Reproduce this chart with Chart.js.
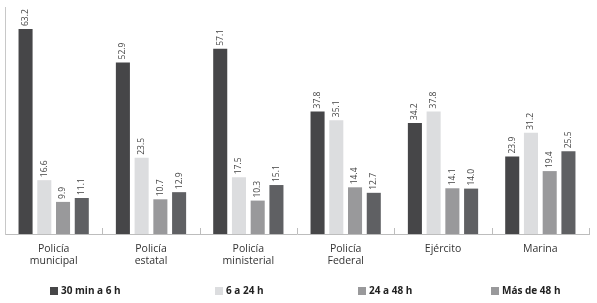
<!DOCTYPE html>
<html>
<head>
<meta charset="utf-8">
<script src="https://cdn.jsdelivr.net/npm/chart.js@4/dist/chart.umd.min.js"></script>
<style>
html,body{margin:0;padding:0;background:#fff;}
canvas{display:block;}
</style>
</head>
<body>
<canvas id="c" width="597" height="303"></canvas>
<script>
const categories = [["Policía","municipal"],["Policía","estatal"],["Policía","ministerial"],["Policía","Federal"],["Ejército"],["Marina"]];
const seriesNames = ["30 min a 6 h","6 a 24 h","24 a 48 h","Más de 48 h"];
const s30min6h = [63.2, 52.9, 57.1, 37.8, 34.2, 23.9];
const s6a24h   = [16.6, 23.5, 17.5, 35.1, 37.8, 31.2];
const s24a48h  = [9.9, 10.7, 10.3, 14.4, 14.1, 19.4];
const sMas48h  = [11.1, 12.9, 15.1, 12.7, 14.0, 25.5];
const yMax = 70;

const barColors = ["#464648","#dcdddf","#99999b","#5f6063"];
const legendColors = ["#464648","#dcdddf","#99999b","#99999b"];
const legendX = [50, 215, 358, 491];

const FONT = "'Open Sans', sans-serif";

const extras = {
  id: 'extras',
  afterDatasetsDraw(chart) {
    const ctx = chart.ctx;
    const xs = chart.scales.x;
    const area = chart.chartArea;
    const half = (xs.getPixelForValue(1) - xs.getPixelForValue(0)) / 2;
    ctx.save();
    ctx.strokeStyle = '#bdbdbd';
    ctx.lineWidth = 1;
    for (let i = 0; i < categories.length; i++) {
      const bx = Math.round(xs.getPixelForValue(i) + half) + 0.5;
      ctx.beginPath();
      ctx.moveTo(bx, area.bottom - 6);
      ctx.lineTo(bx, area.bottom);
      ctx.stroke();
    }
    ctx.fillStyle = '#444';
    ctx.font = "8.5px " + FONT;
    ctx.textAlign = 'left';
    ctx.textBaseline = 'middle';
    chart.data.datasets.forEach((ds, di) => {
      const meta = chart.getDatasetMeta(di);
      meta.data.forEach((bar, i) => {
        ctx.save();
        ctx.translate(bar.x, bar.y - 3);
        ctx.rotate(-Math.PI / 2);
        ctx.fillText(ds.data[i].toFixed(1), 0, 0);
        ctx.restore();
      });
    });
    ctx.font = "bold 10px " + FONT;
    ctx.textBaseline = 'middle';
    const ly = 291;
    chart.data.datasets.forEach((ds, di) => {
      ctx.fillStyle = legendColors[di];
      ctx.fillRect(legendX[di], ly - 4, 8, 8);
      ctx.fillStyle = '#222';
      ctx.fillText(ds.label, legendX[di] + 11, ly);
    });
    ctx.restore();
  }
};

const seriesValues = [s30min6h, s6a24h, s24a48h, sMas48h];

new Chart(document.getElementById('c'), {
  type: 'bar',
  data: {
    labels: categories,
    datasets: seriesNames.map((n, i) => ({
      label: n,
      data: seriesValues[i],
      backgroundColor: barColors[i],
      borderWidth: 0,
      categoryPercentage: 0.77,
      barPercentage: 0.75
    }))
  },
  options: {
    responsive: false,
    animation: false,
    layout: { padding: { left: 5, right: 8, top: 7, bottom: 27 } },
    plugins: { legend: { display: false }, tooltip: { enabled: false } },
    scales: {
      x: {
        grid: { display: false },
        border: { display: true, color: '#bdbdbd', width: 1 },
        ticks: { color: '#333', font: { family: FONT, size: 10.5, lineHeight: 1.15 }, padding: 1, maxRotation: 0, autoSkip: false },
        afterFit(s) { s.height = 42; s.paddingLeft = 0; s.paddingRight = 0; }
      },
      y: {
        min: 0, max: yMax,
        grid: { display: false },
        border: { display: true, color: '#c8c8c8', width: 1 },
        ticks: { display: false },
        afterFit(s) { s.width = 0; }
      }
    }
  },
  plugins: [extras]
});
</script>
</body>
</html>
